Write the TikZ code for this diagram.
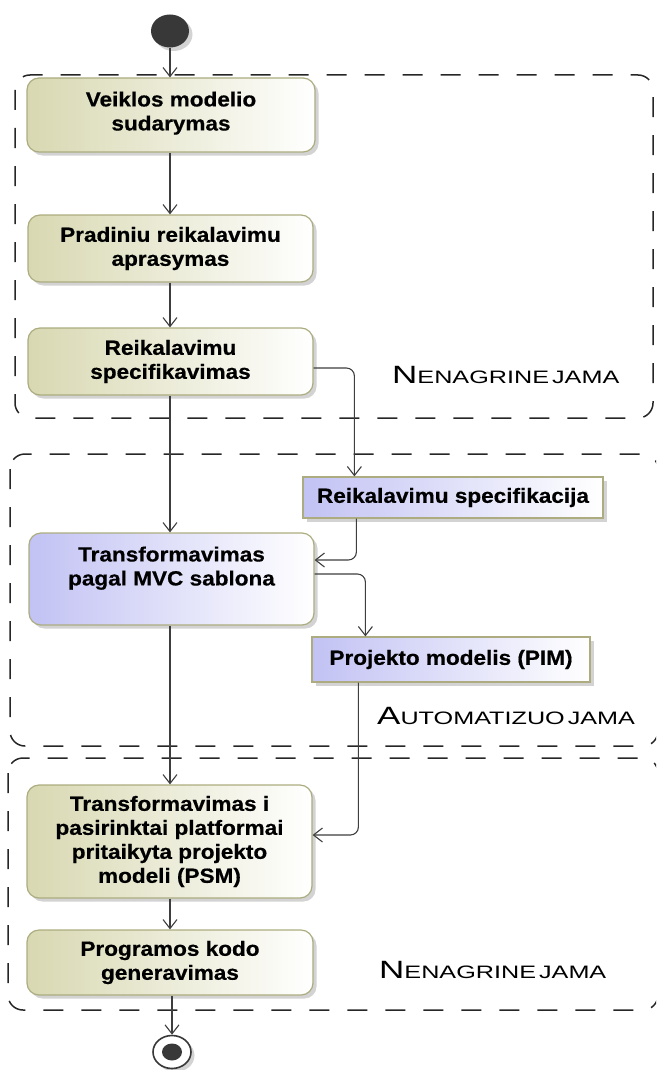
\documentclass[tikz,border=0pt]{standalone}
\usepackage{fontspec}
\setmainfont{Liberation Sans}
\newfontfamily\boxfont[FakeStretch=1.1, BoldFeatures={FakeBold=0.6}]{Liberation Sans}
\newfontfamily\capfont[FakeStretch=1.4]{Liberation Sans}
\usetikzlibrary{arrows.meta,shadows,shapes.geometric}
\definecolor{olivel}{RGB}{216,216,178}
\definecolor{bluel}{RGB}{194,194,244}
\definecolor{boxborder}{RGB}{172,172,128}
\definecolor{linec}{RGB}{62,62,62}
\definecolor{dotc}{RGB}{56,56,56}
\newcommand{\nenag}{{\fontsize{25}{25}\selectfont N}{\fontsize{18}{18}\selectfont ENAGRINE\hspace{3pt}JAMA}}
\newcommand{\autom}{{\fontsize{25}{25}\selectfont A}{\fontsize{18}{18}\selectfont UTOMATIZUO\hspace{3pt}JAMA}}
\begin{document}
\begin{tikzpicture}[x=1pt,y=-1pt,
  txt/.style={font=\boxfont\bfseries\fontsize{20.5}{24}\selectfont, align=center, text=black},
  shad/.style={drop shadow={shadow xshift=3.5pt, shadow yshift=-3.5pt, opacity=0.35}},
  actbox/.style={txt, shad, draw=boxborder, line width=1.2pt, rounded corners=12pt, left color=olivel, right color=white, inner sep=0pt},
  bluebox/.style={actbox, left color=bluel, right color=white},
  objbox/.style={txt, shad, draw=boxborder, line width=1.2pt, left color=bluel, right color=white, inner sep=0pt},
  conn/.style={draw=linec, line width=1.1pt, rounded corners=8pt, -{Straight Barb[length=9pt,width=14pt,line width=1.1pt]}},
  region/.style={draw=black!85, line width=1.5pt, dash pattern=on 20pt off 18pt, rounded corners=15pt},
  captxt/.style={font=\capfont, anchor=base west, inner sep=0pt, text=black}
]
\useasboundingbox (0,0) rectangle (656,1070);
\clip (0,0) rectangle (656,1070);

% regions
\draw[region] (15,75) rectangle (653,418);
\draw[region] (10,454) rectangle (658,746);
\draw[region] (8,758) rectangle (658,1010);

% captions
\node[captxt] (cap1) at (392,383) {\nenag};
\node[captxt] (cap2) at (377,724) {\autom};
\node[captxt] (cap3) at (379,978) {\nenag};

% nodes
\node[ellipse, fill=dotc, shad, minimum width=38pt, minimum height=33pt, inner sep=0pt] (start) at (170,31) {};
\node[actbox, minimum width=288pt, minimum height=74pt] (veiklos) at (171,115) {Veiklos modelio\\sudarymas\\[-16pt]\mbox{}};
\node[actbox, minimum width=285pt, minimum height=67pt] (pradiniu) at (170.5,248.5) {Pradiniu reikalavimu\\aprasymas};
\node[actbox, minimum width=285pt, minimum height=67pt] (reikspec) at (170.5,361.5) {Reikalavimu\\specifikavimas};
\node[objbox, minimum width=300pt, minimum height=41pt] (specobj) at (453,497.5) {Reikalavimu specifikacija};
\node[bluebox, minimum width=285pt, minimum height=92pt] (mvc) at (171.5,579) {Transformavimas\\pagal MVC sablona\\[2pt]\mbox{}};
\node[objbox, minimum width=278pt, minimum height=45pt] (pim) at (451,659.5) {Projekto modelis (PIM)};
\node[actbox, minimum width=285pt, minimum height=113pt] (psm) at (169.5,841.5) {Transformavimas i\\pasirinktai platformai\\pritaikyta projekto\\modeli (PSM)};
\node[actbox, minimum width=286pt, minimum height=65pt] (prog) at (170,962.5) {Programos kodo\\generavimas};
\node[ellipse, draw=dotc, line width=1.6pt, fill=white, shad, minimum width=38pt, minimum height=33pt, inner sep=0pt] (final) at (172,1052) {};
\fill[dotc] (final.center) ellipse (10pt and 8.5pt);

% connectors
\draw[conn] (start) -- (start |- veiklos.north);
\draw[conn] (veiklos.south -| start) -- (start |- pradiniu.north);
\draw[conn] (pradiniu.south -| start) -- (start |- reikspec.north);
\draw[conn] (reikspec.south -| start) -- (start |- mvc.north);
\draw[conn] ([yshift=-6.5pt]reikspec.east) -| ([xshift=52pt]specobj.north west);
\draw[conn] ([xshift=54pt]specobj.south west) |- ([yshift=19pt]mvc.east);
\draw[conn] ([yshift=5pt]mvc.east) -| ([xshift=54pt]pim.north west);
\draw[conn] (mvc.south -| start) -- (start |- psm.north);
\draw[conn] ([xshift=47pt]pim.south west) |- ([yshift=6.5pt]psm.east);
\draw[conn] (psm.south -| start) -- (start |- prog.north);
\draw[conn] (prog.south -| final) -- (final.north);
\end{tikzpicture}
\end{document}
